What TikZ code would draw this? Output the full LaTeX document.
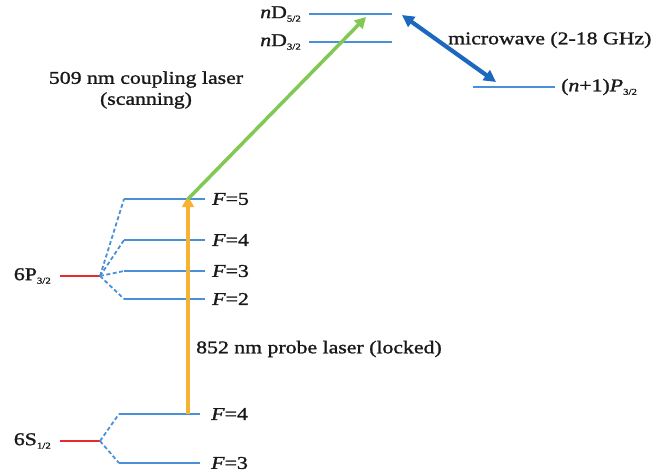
\documentclass[tikz,border=0pt]{standalone}
\usepackage{fontspec}
\setmainfont[FakeStretch=1.21,FakeBold=1.3]{Liberation Serif}
\usetikzlibrary{arrows.meta}
\definecolor{lvl}{RGB}{74,144,217}
\definecolor{redlvl}{RGB}{232,42,42}
\definecolor{probe}{RGB}{247,178,52}
\definecolor{coupl}{RGB}{130,200,85}
\definecolor{mw}{RGB}{28,104,190}
\newcommand{\sbs}[1]{\raisebox{-3.5pt}{\fontsize{9}{9}\selectfont #1}}
\begin{document}
\begin{tikzpicture}[x=1pt,y=-1pt,
  level/.style={lvl,line width=2.4pt},
  fine/.style={redlvl,line width=2.8pt},
  splitline/.style={lvl,line width=1.8pt,dash pattern=on 4pt off 2.5pt},
  lbl/.style={inner sep=0pt,text=black!90,font=\fontsize{18}{21}\selectfont},
  laser/.style={line width=4.2pt,-{Triangle[length=11pt,width=11.5pt]}}]
\useasboundingbox (0,0) rectangle (661,476);
% 6P3/2
\coordinate (pL) at (60,276);
\coordinate (pS) at (100,276);
\draw[fine] (pL) -- (pS);
\coordinate (p5a) at (124,199); \coordinate (p5b) at (205,199);
\coordinate (p4a) at (124,240); \coordinate (p4b) at (205,240);
\coordinate (p3a) at (124,271); \coordinate (p3b) at (205,271);
\coordinate (p2a) at (124,299); \coordinate (p2b) at (205,299);
\foreach \k in {5,4,3,2}{
  \draw[level] (p\k a) -- (p\k b);
  \draw[splitline] (pS) -- (p\k a);
  \node[lbl,anchor=west] (pF\k) at ([xshift=7pt]p\k b) {\textit{F}=\k};
}
\node[lbl,anchor=east] (p6) at ([xshift=-9pt]pL) {6P\sbs{3/2}};
% 6S1/2
\coordinate (sL) at (60,441);
\coordinate (sS) at (100,441);
\draw[fine] (sL) -- (sS);
\coordinate (s4a) at (119,414); \coordinate (s4b) at (200,414);
\coordinate (s3a) at (119,463); \coordinate (s3b) at (200,463);
\foreach \k in {4,3}{
  \draw[level] (s\k a) -- (s\k b);
  \draw[splitline] (sS) -- (s\k a);
  \node[lbl,anchor=west] (sF\k) at ([xshift=11pt]s\k b) {\textit{F}=\k};
}
\node[lbl,anchor=east] (s6) at ([xshift=-9pt]sL) {6S\sbs{1/2}};
% Rydberg levels
\coordinate (d5a) at (309,14); \coordinate (d5b) at (392,14);
\coordinate (d3a) at (309,42); \coordinate (d3b) at (392,42);
\draw[level] (d5a) -- (d5b);
\draw[level] (d3a) -- (d3b);
\node[lbl,anchor=east] (nd5) at ([xshift=-8pt]d5a) {\textit{n}D\sbs{5/2}};
\node[lbl,anchor=east] (nd3) at ([xshift=-8pt]d3a) {\textit{n}D\sbs{3/2}};
\coordinate (pa) at (473,87); \coordinate (pb) at (555,87);
\draw[level] (pa) -- (pb);
\node[lbl,anchor=west] (np) at ([xshift=6pt]pb) {(\textit{n}+1)\textit{P}\sbs{3/2}};
% lasers
\coordinate (probeStart) at (188,414);
\coordinate (probeEnd) at (188,199);
\coordinate (coupEnd) at (366,17);
\coordinate (mwA) at (402,15);
\coordinate (mwB) at (496,82);
\draw[laser,probe] (probeStart) -- ([yshift=3pt]probeEnd);
\draw[laser,coupl,line width=3.5pt] (probeEnd) -- (coupEnd);
\draw[line width=4.2pt,mw,{Triangle[length=12pt,width=12pt]}-{Triangle[length=12pt,width=12pt]}] (mwA) -- (mwB);
% texts
\node[lbl,align=center] (ctext) at (146,90) {509 nm coupling laser\\(scanning)};
\node[lbl,anchor=west] (ptext) at (196,349) {852 nm probe laser (locked)};
\node[lbl,anchor=west] (mtext) at (448,40) {microwave (2-18 GHz)};
\end{tikzpicture}
\end{document}
